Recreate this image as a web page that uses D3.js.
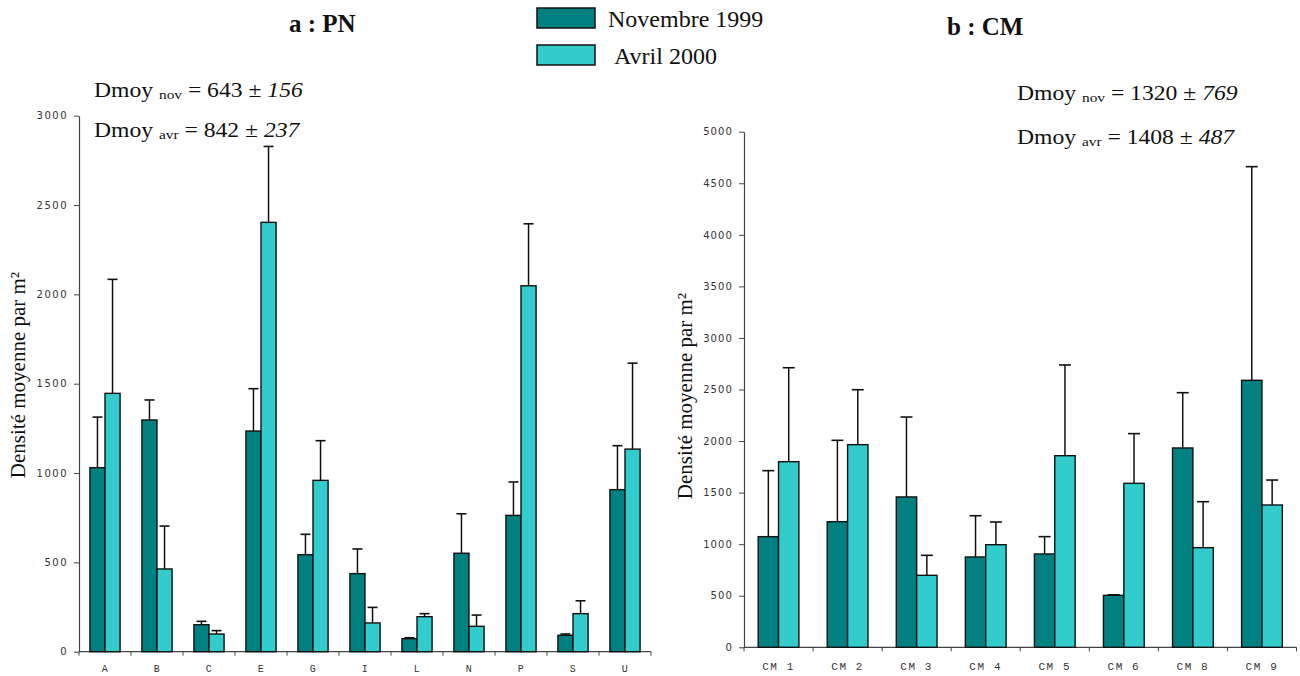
<!DOCTYPE html>
<html><head><meta charset="utf-8">
<script src="https://cdn.jsdelivr.net/npm/d3@7/dist/d3.min.js"></script>
<style>body{margin:0;background:#fff}svg{display:block}</style>
</head><body>
<svg id="c" width="1300" height="676"></svg>
<script>
// ---- Data ----
const seriesNames = ["Novembre 1999", "Avril 2000"];
const pnCategories = ["A","B","C","E","G","I","L","N","P","S","U"];
const pnNov    = [1030,1297,151,1235,543,437,73,551,763,92,907];
const pnNovErr = [283,112,19,237,114,138,5,221,187,7,246];
const pnAvr    = [1446,463,99,2403,959,161,196,142,2048,213,1134];
const pnAvrErr = [638,240,19,425,222,87,17,63,347,72,481];
const pnTicks  = [0,500,1000,1500,2000,2500,3000];

const cmCategories = ["CM 1","CM 2","CM 3","CM 4","CM 5","CM 6","CM 8","CM 9"];
const cmNov    = [1073,1218,1458,876,905,504,1933,2589];
const cmNovErr = [640,789,775,400,168,5,536,2072];
const cmAvr    = [1800,1965,698,995,1858,1590,966,1380];
const cmAvrErr = [911,533,194,220,880,482,446,242];
const cmTicks  = [0,500,1000,1500,2000,2500,3000,3500,4000,4500,5000];

const colors = ["#008080", "#33CCCC"];
const svg = d3.select("#c");
const serif = "'Liberation Serif','Times New Roman',serif";

function panel(o){
  const g = svg.append("g");
  const y = d3.scaleLinear().domain([0, o.ymax]).range([o.y0, o.y1]);
  const x0 = d3.scaleBand().domain(o.cats).range([o.xl, o.xr]).paddingInner(o.pad).paddingOuter(o.pad/2);
  const x1 = d3.scaleBand().domain([0,1]).range([0, x0.bandwidth()]);
  const step = x0.step();
  // y axis
  const ya = d3.axisLeft(y).tickValues(o.ticks).tickFormat(d3.format("d")).tickSize(5).tickPadding(6).tickSizeOuter(0);
  const yg = g.append("g").attr("transform", `translate(${o.xl},0)`).call(ya);
  yg.select(".domain").attr("stroke", "#444").attr("stroke-width", 1.2);
  yg.selectAll(".tick line").attr("stroke", "#444");
  yg.selectAll("text").attr("font-family", "'DejaVu Sans',Verdana,sans-serif")
    .attr("font-size", 10).attr("fill", "#333").attr("letter-spacing", o.ls);
  // x axis
  g.append("line").attr("x1", o.xl).attr("x2", o.xr).attr("y1", o.y0).attr("y2", o.y0)
    .attr("stroke", "#444").attr("stroke-width", 1.2);
  o.cats.forEach((c,i)=>{
    const bx = x0(c) - x0.step()*x0.paddingInner()/2;
    g.append("line").attr("x1", bx).attr("x2", bx).attr("y1", o.y0).attr("y2", o.y0+4).attr("stroke","#444");
    if(i===o.cats.length-1){
      g.append("line").attr("x1", bx+step).attr("x2", bx+step).attr("y1", o.y0).attr("y2", o.y0+4).attr("stroke","#444");
    }
    g.append("text").attr("x", x0(c)+x0.bandwidth()/2).attr("y", o.labelY)
      .attr("text-anchor","middle").attr("font-family","'Liberation Mono','Courier New',monospace")
      .attr("font-size", o.lfs).attr("letter-spacing", o.lls).attr("fill","#333").text(c);
  });
  // bars + error bars
  [o.nov, o.avr].forEach((vals, s)=>{
    const errs = s===0 ? o.novErr : o.avrErr;
    o.cats.forEach((c,i)=>{
      const bx = x0(c) + x1(s);
      const bw = x1.bandwidth();
      const cx = bx + bw/2;
      const top = y(vals[i]);
      const et = y(vals[i] + errs[i]);
      g.append("line").attr("x1", cx).attr("x2", cx).attr("y1", top).attr("y2", et)
        .attr("stroke","#111").attr("stroke-width",1.5);
      g.append("line").attr("x1", cx-o.cap).attr("x2", cx+o.cap).attr("y1", et).attr("y2", et)
        .attr("stroke","#111").attr("stroke-width",1.6);
      g.append("rect").attr("x", bx).attr("y", top).attr("width", bw).attr("height", o.y0 - top)
        .attr("fill", colors[s]).attr("stroke","#111").attr("stroke-width",1.4);
    });
  });
  // y title
  g.append("text").attr("transform", `translate(${o.titleX},${o.titleY}) rotate(-90)`)
    .attr("text-anchor","middle").attr("font-family", serif).attr("font-size", 21).attr("fill","#111")
    .text("Densité moyenne par m²");
  // panel title
  g.append("text").attr("x", o.hx).attr("y", o.hy).attr("font-family", serif).attr("font-weight","bold")
    .attr("font-size", 25).attr("fill","#111").text(o.head);
}

panel({cats: pnCategories, nov: pnNov, novErr: pnNovErr, avr: pnAvr, avrErr: pnAvrErr,
  ticks: pnTicks, ymax: 3000, y0: 651.7, y1: 115.7, xl: 79, xr: 651, pad: 0.42,
  cap: 5, ls: 1.5, labelY: 672, lfs: 10, lls: 0.5, titleX: 25, titleY: 375,
  head: "a : PN", hx: 289, hy: 32});
panel({cats: cmCategories, nov: cmNov, novErr: cmNovErr, avr: cmAvr, avrErr: cmAvrErr,
  ticks: cmTicks, ymax: 5000, y0: 647.3, y1: 131.7, xl: 744, xr: 1296.5, pad: 0.41,
  cap: 6, ls: 1.1, labelY: 670, lfs: 11, lls: 1.6, titleX: 692, titleY: 396,
  head: "b : CM", hx: 947, hy: 35});

// Legend
seriesNames.forEach((n,i)=>{
  const ly = [8, 45][i];
  svg.append("rect").attr("x",537).attr("y",ly).attr("width",58).attr("height",20)
    .attr("fill",colors[i]).attr("stroke","#111").attr("stroke-width",1.5);
  svg.append("text").attr("x", [608,614][i]).attr("y", [27,64][i]).attr("font-family", serif)
    .attr("font-size", 24).attr("fill","#111").text(n);
});

// Mean annotations
const notes = [
  {sub:"nov", mean:"643", sd:"156", x:94, y:97},
  {sub:"avr", mean:"842", sd:"237", x:94, y:137},
  {sub:"nov", mean:"1320", sd:"769", x:1017, y:100},
  {sub:"avr", mean:"1408", sd:"487", x:1017, y:144}
];
let scaleX = 1;
notes.forEach((d,i)=>{
  const t = svg.append("text").attr("font-family", serif).attr("font-size", 20).attr("fill","#111");
  t.append("tspan").text("Dmoy ");
  t.append("tspan").attr("font-size", 13).attr("dy", 2).text(d.sub);
  t.append("tspan").attr("dy", -2).text(" = " + d.mean + " ± ");
  t.append("tspan").attr("font-style","italic").text(d.sd);
  if(i===0){ scaleX = 209 / t.node().getComputedTextLength(); }
  t.attr("transform", `translate(${d.x},${d.y}) scale(${scaleX},1)`);
});
</script>
</body></html>
